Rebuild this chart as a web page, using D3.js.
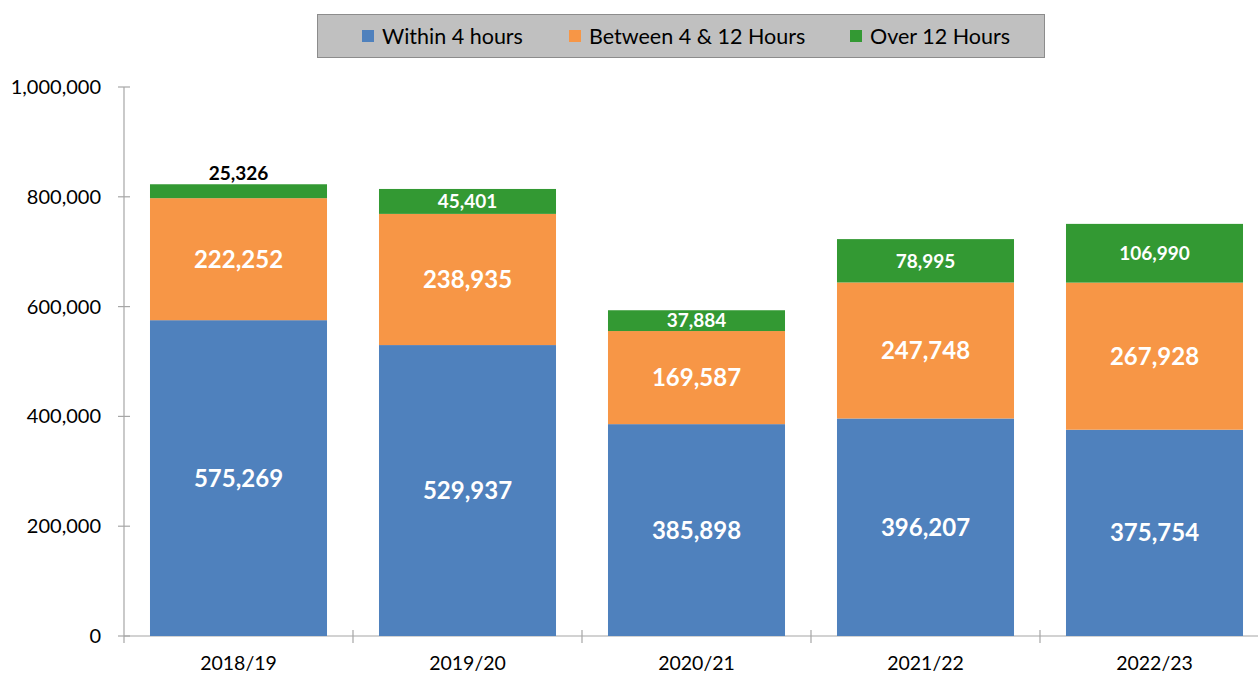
<!DOCTYPE html>
<html><head><meta charset="utf-8">
<script src="https://cdn.jsdelivr.net/npm/d3@7"></script>
<style>body{margin:0;background:#fff}svg{display:block}text{font-family:Lato,"Open Sans",sans-serif}</style>
</head><body><svg id="c" width="1258" height="674"></svg>
<script>
const categories = ["2018/19","2019/20","2020/21","2021/22","2022/23"];
const within4 = [575269,529937,385898,396207,375754];
const between4and12 = [222252,238935,169587,247748,267928];
const over12 = [25326,45401,37884,78995,106990];
const seriesNames = ["Within 4 hours","Between 4 & 12 Hours","Over 12 Hours"];
const colors = ["#4f81bd","#f79646","#339933"];
const yTicks = [0,200000,400000,600000,800000,1000000];

const svg = d3.select("#c");
const x0 = 124, bandW = 229;
const x = d3.scaleBand().domain(categories).range([x0, x0 + bandW*categories.length]).paddingInner(0.227).paddingOuter(0.1135);
const y = d3.scaleLinear().domain([0,1000000]).range([636,87]);
const fmt = d3.format(",");

const rows = categories.map((c,i)=>({cat:c, a:within4[i], b:between4and12[i], c:over12[i]}));
const stack = d3.stack().keys(["a","b","c"])(rows);

// axes
const axisColor = "#a6a6a6";
const yAxis = svg.append("g").attr("transform",`translate(${x0},0)`)
  .call(d3.axisLeft(y).tickValues(yTicks).tickFormat(fmt).tickSize(0).tickPadding(23));
yAxis.select(".domain").remove();
yAxis.selectAll("text").attr("font-size",20).attr("fill","#000").attr("font-family","Lato");
svg.append("g").selectAll("line").data(yTicks).join("line")
  .attr("x1",x0-6).attr("x2",x0+6).attr("y1",d=>y(d)).attr("y2",d=>y(d)).attr("stroke",axisColor).attr("stroke-width",1.2);
svg.append("line").attr("x1",x0).attr("x2",x0).attr("y1",y(1000000)).attr("y2",y(0)+7).attr("stroke",axisColor).attr("stroke-width",1.2);
svg.append("line").attr("x1",x0).attr("x2",1258).attr("y1",y(0)).attr("y2",y(0)).attr("stroke",axisColor).attr("stroke-width",1.2);
svg.append("g").selectAll("line").data(d3.range(1,categories.length)).join("line")
  .attr("x1",i=>x0+i*bandW).attr("x2",i=>x0+i*bandW).attr("y1",y(0)-6).attr("y2",y(0)+7).attr("stroke",axisColor).attr("stroke-width",1.2);
svg.append("g").selectAll("text").data(categories).join("text")
  .attr("x",d=>x(d)+x.bandwidth()/2).attr("y",670).attr("text-anchor","middle").attr("font-size",19.5).text(d=>d);

// bars
stack.forEach((s,si)=>{
  svg.append("g").selectAll("rect").data(s).join("rect")
    .attr("x",d=>x(d.data.cat)).attr("width",x.bandwidth())
    .attr("y",d=>y(d[1])).attr("height",d=>y(d[0])-y(d[1])).attr("fill",colors[si]);
});
// labels
const small = d => (y(d[0])-y(d[1])) < 17;
stack.forEach((s,si)=>{
  svg.append("g").selectAll("text").data(s).join("text")
    .attr("x",d=>x(d.data.cat)+x.bandwidth()/2)
    .attr("y",d=> (si===2 && small(d)) ? y(d[1])-11 : (y(d[0])+y(d[1]))/2)
    .attr("dy","0.36em").attr("text-anchor","middle").attr("font-weight","bold")
    .attr("font-size",si===2?19:24)
    .attr("fill",d=> (si===2 && small(d))?"#000":"#fff")
    .text(d=>fmt(d[1]-d[0]));
});

// legend
const lg = svg.append("g");
lg.append("rect").attr("x",317.5).attr("y",14.5).attr("width",727).attr("height",43).attr("fill","#c0c0c0").attr("stroke","#8c8c8c");
const lx = [362,569,850];
seriesNames.forEach((n,i)=>{
  lg.append("rect").attr("x",lx[i]).attr("y",30).attr("width",12).attr("height",12).attr("fill",colors[i]);
  lg.append("text").attr("x",lx[i]+20).attr("y",36).attr("dy","0.36em").attr("font-size",21.5).attr("fill","#000").text(n);
});
</script></body></html>
